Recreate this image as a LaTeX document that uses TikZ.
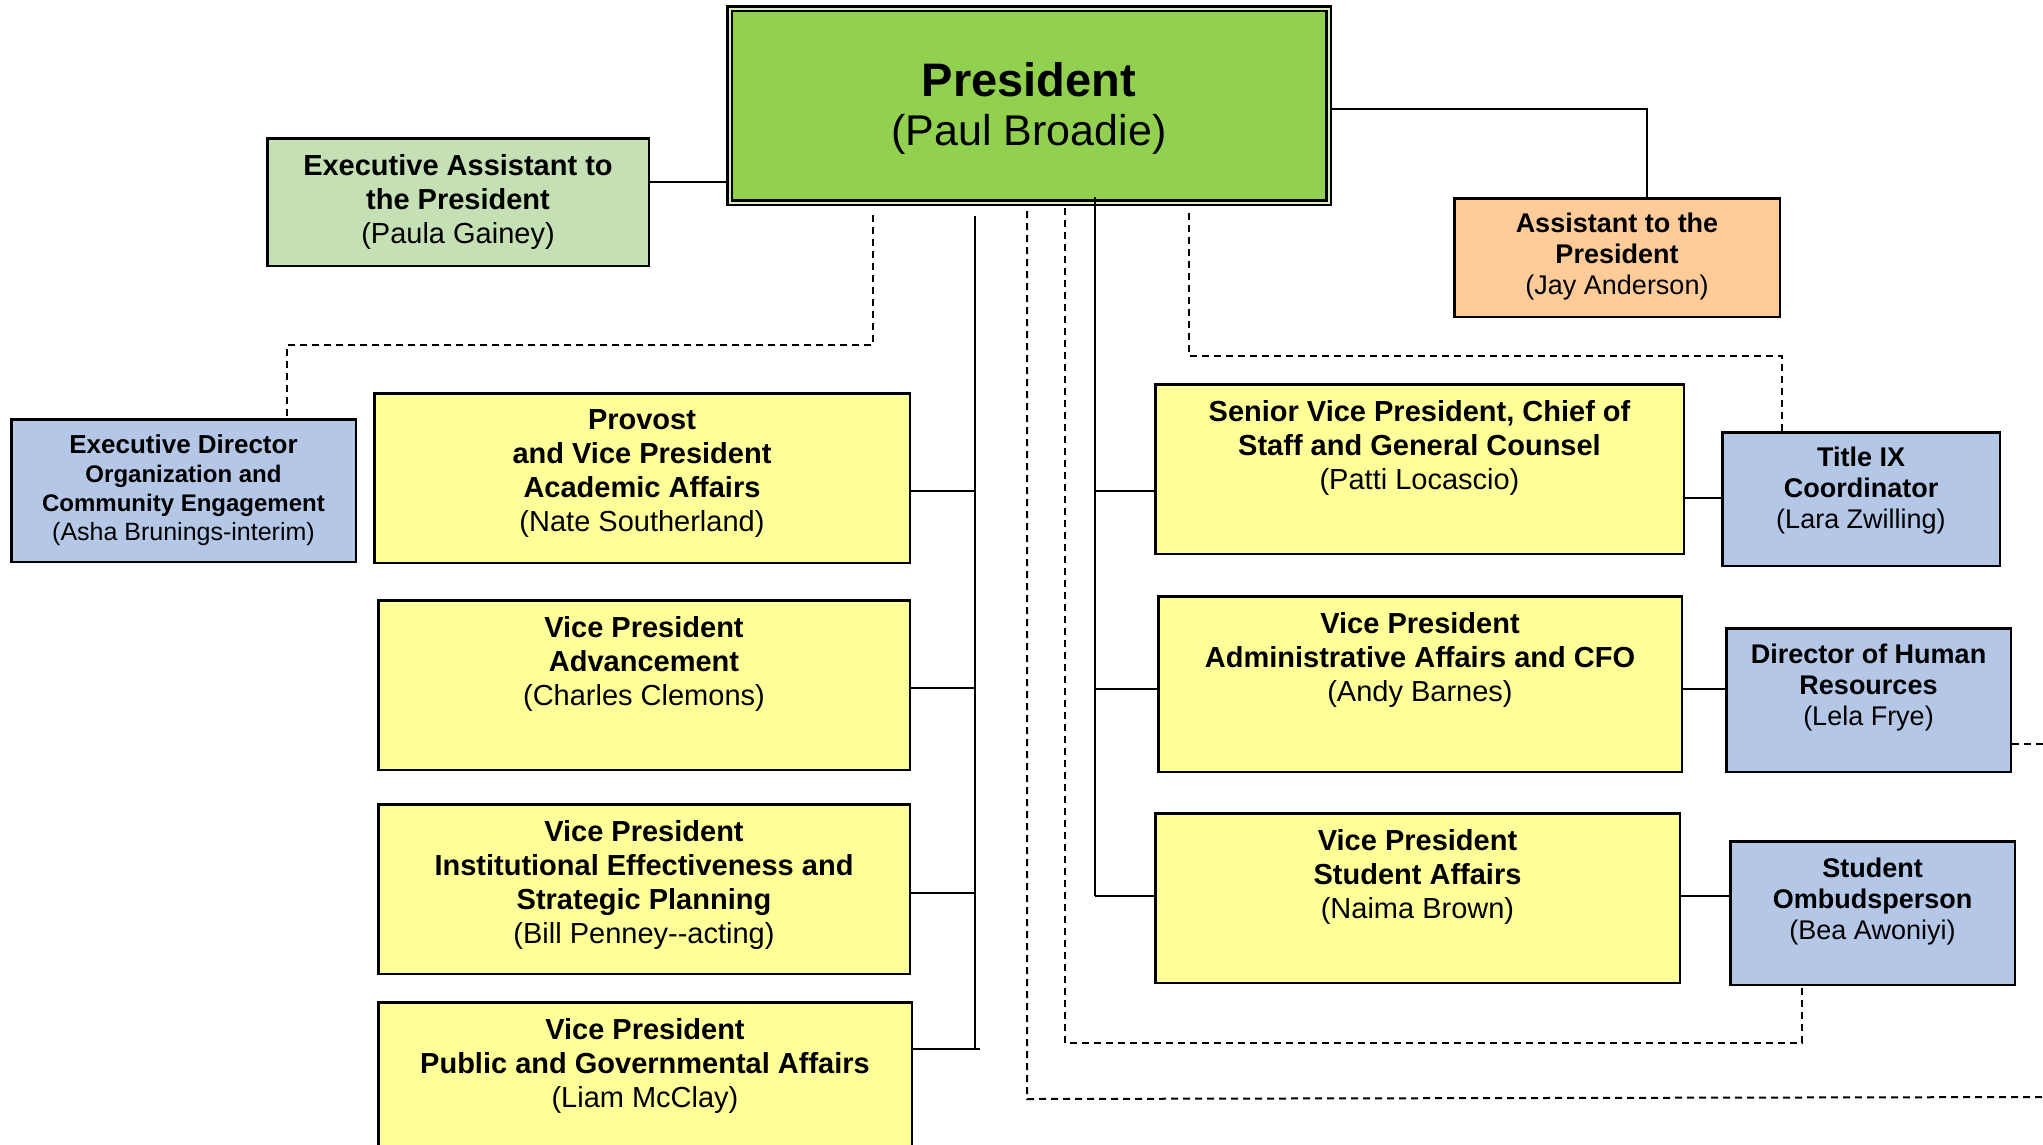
\documentclass[tikz,border=0pt]{standalone}
\usepackage{fontspec}
\setmainfont{Liberation Sans}
\usepackage{tikz}
\usetikzlibrary{positioning}

\definecolor{presgreen}{HTML}{92D050}
\definecolor{assistgreen}{HTML}{C5E0B4}
\definecolor{assistorange}{HTML}{FFCC99}
\definecolor{staffblue}{HTML}{B4C7E7}
\definecolor{vpyellow}{HTML}{FFFF99}

\tikzset{
    unit/.style={draw, line width=2.5pt, anchor=north west, inner sep=0pt},
    vp/.style={unit, fill=vpyellow},
    staff/.style={unit, fill=staffblue},
    txt/.style={inner sep=0pt, outer sep=0pt, align=center, font=\fontsize{29}{34}\selectfont\bfseries},
    smalltxt/.style={txt, font=\fontsize{27}{31}\selectfont\bfseries},
    line/.style={line width=2.5pt},
    dotline/.style={line width=2pt, dash pattern=on 7pt off 5pt}
}

\begin{document}
\begin{tikzpicture}[x=1pt, y=-1pt]
            \useasboundingbox (0,0) rectangle (2043,1144);
            \clip (0,0) rectangle (2043,1144);

            % boxes
            \node[unit, fill=presgreen, double=presgreen!35!white, double distance=2pt, outer sep=3.5pt,
                  minimum width=599pt, minimum height=194pt] (pres) at (726,5) {};
            \node[unit, fill=assistgreen, minimum width=381.5pt, minimum height=127.5pt] (ea) at (266,137) {};
            \node[unit, fill=assistorange, minimum width=325.5pt, minimum height=118.5pt] (atp) at (1453,197) {};
            \node[staff, minimum width=344.5pt, minimum height=142.5pt] (ed) at (10,418) {};
            \node[vp, minimum width=535.5pt, minimum height=169.5pt] (prov) at (373,392) {};
            \node[vp, minimum width=531.5pt, minimum height=169.5pt] (adv) at (377,599) {};
            \node[vp, minimum width=531.5pt, minimum height=169.5pt] (ie) at (377,803) {};
            \node[vp, minimum width=533.5pt, minimum height=170pt] (pga) at (377,1001) {};
            \node[vp, minimum width=528.5pt, minimum height=169.5pt] (svp) at (1154,383) {};
            \node[staff, minimum width=277.5pt, minimum height=133.5pt] (t9) at (1721,431) {};
            \node[vp, minimum width=523.5pt, minimum height=175.5pt] (cfo) at (1157,595) {};
            \node[staff, minimum width=284.5pt, minimum height=143.5pt] (hr) at (1725,627) {};
            \node[vp, minimum width=524.5pt, minimum height=169.5pt] (sa) at (1154,812) {};
            \node[staff, minimum width=284.5pt, minimum height=143.5pt] (omb) at (1729,840) {};

            % texts
            \node[txt, font=\fontsize{47}{49}\selectfont\bfseries, below=57pt of pres.north] (prestxt)
                {President\\\mdseries\fontsize{43}{49}\selectfont(Paul Broadie)};
            \node[txt, below=17pt of ea.north] (eatxt) {Executive Assistant to\\the President\\\mdseries(Paula Gainey)};
            \node[smalltxt, below=16pt of atp.north] (atptxt) {Assistant to the\\President\\\mdseries(Jay Anderson)};
            \node[txt, font=\fontsize{24}{29}\selectfont\bfseries, below=17pt of ed.north] (edtxt)
                {{\fontsize{26}{29}\selectfont Executive Director}\\Organization and\\Community Engagement\\\mdseries\fontsize{25}{29}\selectfont(Asha Brunings-interim)};
            \node[txt, below=18pt of prov.north] (provtxt) {Provost\\and Vice President\\Academic Affairs\\\mdseries(Nate Southerland)};
            \node[txt, below=17pt of adv.north] (advtxt) {Vice President\\Advancement\\\mdseries(Charles Clemons)};
            \node[txt, below=17pt of ie.north] (ietxt) {Vice President\\Institutional Effectiveness and\\Strategic Planning\\\mdseries(Bill Penney-{}-acting)};
            \node[txt, below=17pt of pga.north] (pgatxt) {Vice President\\Public and Governmental Affairs\\\mdseries(Liam McClay)};
            \node[txt, below=17pt of svp.north] (svptxt) {Senior Vice President, Chief of\\Staff and General Counsel\\\mdseries(Patti Locascio)};
            \node[smalltxt, below=16pt of t9.north] (t9txt) {Title IX\\Coordinator\\\mdseries(Lara Zwilling)};
            \node[txt, below=17pt of cfo.north] (cfotxt) {Vice President\\Administrative Affairs and CFO\\\mdseries(Andy Barnes)};
            \node[smalltxt, below=17pt of hr.north] (hrtxt) {Director of Human\\Resources\\\mdseries(Lela Frye)};
            \node[txt, below=17pt of sa.north] (satxt) {Vice President\\Student Affairs\\\mdseries(Naima Brown)};
            \node[smalltxt, below=18pt of omb.north] (ombtxt) {Student\\Ombudsperson\\\mdseries(Bea Awoniyi)};

            % solid reporting lines
            \coordinate (atpcorner) at (1647,109);
            \coordinate (ltop) at (975,216);
            \coordinate (lbot) at (980,1049);
            \coordinate (rtop) at (1095,197);
            \coordinate (rbot) at (1095,896);

            \draw[line] (pres.east |- atpcorner) -- (atpcorner) -- (atpcorner |- atp.north);
            \draw[line] (ea.east |- 0,182) -- (pres.west |- 0,182);
            \draw[line] (ltop) -- (ltop |- lbot);
            \draw[line] (pga.east |- lbot) -- (lbot);
            \foreach \n/\y in {prov/491, adv/688, ie/893}
                \draw[line] (\n.east |- 0,\y) -- (ltop |- 0,\y);
            \draw[line] (rtop) -- (rbot);
            \foreach \n/\y in {svp/491, cfo/689, sa/896}
                \draw[line] (rtop |- 0,\y) -- (\n.west |- 0,\y);
            \foreach \a/\b/\y in {svp/t9/498, cfo/hr/689, sa/omb/896}
                \draw[line] (\a.east |- 0,\y) -- (\b.west |- 0,\y);

            % dotted-line relationships
            \coordinate (edlink) at (873,215);
            \coordinate (offlink) at (1027,211);
            \coordinate (omblink) at (1065,208);
            \coordinate (t9link) at (1189,213);
            \coordinate (offend) at (2050,1097);
            \coordinate (hrend) at (2050,744);

            \draw[dotline] (edlink) |- (287,345) -- (287,0 |- ed.north);
            \draw[dotline] (offlink) -- (1027,1099) -- (offend);
            \draw[dotline] (omblink) |- (1802,1043) -- (1802,0 |- omb.south);
            \draw[dotline] (t9link) |- (1782,356) -- (1782,0 |- t9.north);
            \draw[dotline] (hr.east |- hrend) -- (hrend);
\end{tikzpicture}
\end{document}
